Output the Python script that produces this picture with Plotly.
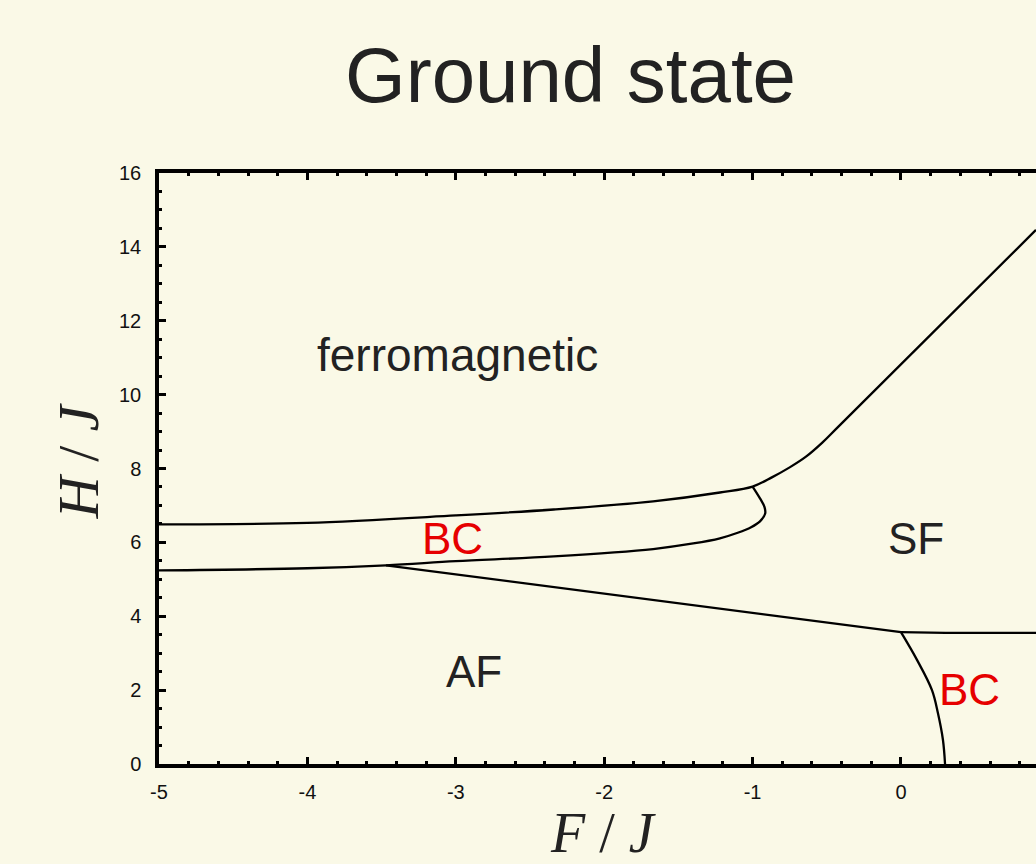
import plotly.graph_objects as go

# ---- data ----
# ferromagnetic / BC boundary, continuing as ferromagnetic / SF boundary
upper_F = [-5.0, -4.0, -3.0, -2.34, -1.67, -1.22, -1.0, -0.87, -0.75, -0.64, -0.53, -0.42, 0.91]
upper_H = [6.49, 6.53, 6.73, 6.89, 7.11, 7.35, 7.51, 7.76, 8.03, 8.32, 8.70, 9.14, 14.46]

# lower BC boundary (BC / AF and BC / SF), closing the BC lobe
lower_F = [-5.0, -4.0, -3.47, -3.0, -2.34, -1.67, -1.40, -1.22, -1.10, -1.01, -0.95, -0.915, -0.92, -0.95, -1.0]
lower_H = [5.24, 5.30, 5.38, 5.49, 5.62, 5.82, 5.97, 6.11, 6.26, 6.41, 6.57, 6.78, 6.96, 7.19, 7.51]

# AF / SF boundary
afsf_F = [-3.47, 0.0]
afsf_H = [5.38, 3.57]

# SF / BC (right) boundary
sfbc_F = [0.0, 0.3, 0.91]
sfbc_H = [3.57, 3.55, 3.55]

# AF / BC (right) boundary
afbc_F = [0.0, 0.108, 0.209, 0.249, 0.283, 0.297]
afbc_H = [3.57, 2.82, 2.00, 1.38, 0.65, 0.0]

# region labels
label_text = ["ferromagnetic", "BC", "SF", "AF", "BC"]
label_F = [-2.99, -3.02, 0.10, -2.88, 0.46]
label_H = [11.07, 6.10, 6.10, 2.50, 2.03]
label_color = ["#222222", "#E60000", "#222222", "#222222", "#E60000"]
label_size = [46, 44, 44, 44, 44]

x_ticks = [-5, -4, -3, -2, -1, 0]
y_ticks = [0, 2, 4, 6, 8, 10, 12, 14, 16]

BG = "#FAF9E7"
LINE = dict(color="black", width=2.3)

fig = go.Figure()
for fx, hy, shape in [(upper_F, upper_H, "spline"), (lower_F, lower_H, "spline"),
                      (afsf_F, afsf_H, "linear"), (sfbc_F, sfbc_H, "linear"),
                      (afbc_F, afbc_H, "spline")]:
    fig.add_trace(go.Scatter(x=fx, y=hy, mode="lines", line=dict(LINE, shape=shape),
                             hoverinfo="skip", showlegend=False))

for t, fx, hy, c, s in zip(label_text, label_F, label_H, label_color, label_size):
    fig.add_annotation(x=fx, y=hy, text=t, showarrow=False,
                       font=dict(family="Liberation Sans, Arial", size=s, color=c),
                       xanchor="center", yanchor="middle")

# title and axis titles
fig.add_annotation(xref="paper", yref="paper", x=0.4687, y=1.166, text="Ground state",
                   showarrow=False, xanchor="center", yanchor="middle",
                   font=dict(family="Liberation Sans, Arial", size=78, color="#222222"))
fig.add_annotation(xref="paper", yref="paper", x=0.507, y=-0.116,
                   text="<i>F</i> / <i>J</i>", showarrow=False,
                   xanchor="center", yanchor="middle",
                   font=dict(family="Liberation Serif, serif", size=56, color="#222222"))
fig.add_annotation(xref="paper", yref="paper", x=-0.0924, y=0.514,
                   text="<i>H</i> / <i>J</i>", showarrow=False, textangle=-90,
                   xanchor="center", yanchor="middle",
                   font=dict(family="Liberation Serif, serif", size=58, color="#222222"))

fig.update_layout(
    width=1036, height=864,
    margin=dict(l=159, r=0, t=173, b=100),
    paper_bgcolor=BG, plot_bgcolor=BG,
    showlegend=False,
    xaxis=dict(range=[-5, 0.91], tickvals=x_ticks, ticktext=[str(v) for v in x_ticks],
               showgrid=False, zeroline=False,
               showline=True, linecolor="black", linewidth=3.5, mirror="allticks",
               ticks="inside", ticklen=7, tickwidth=2.5, tickcolor="black",
               minor=dict(dtick=0.2, tick0=0, ticks="inside", ticklen=3, tickwidth=2.5,
                          tickcolor="black", showgrid=False),
               tickfont=dict(family="Liberation Sans, Arial", size=20, color="#111111"),
               ticklabelstandoff=7, fixedrange=True),
    yaxis=dict(range=[0, 16], tickvals=y_ticks, ticktext=[str(v) for v in y_ticks],
               showgrid=False, zeroline=False,
               showline=True, linecolor="black", linewidth=3.5, mirror=False,
               ticks="inside", ticklen=7, tickwidth=2.5, tickcolor="black",
               minor=dict(dtick=0.5, tick0=0, ticks="inside", ticklen=3, tickwidth=2.5,
                          tickcolor="black", showgrid=False),
               tickfont=dict(family="Liberation Sans, Arial", size=20, color="#111111"),
               ticklabelstandoff=10, fixedrange=True),
)

fig.write_html("out.html", config={"displayModeBar": False})
